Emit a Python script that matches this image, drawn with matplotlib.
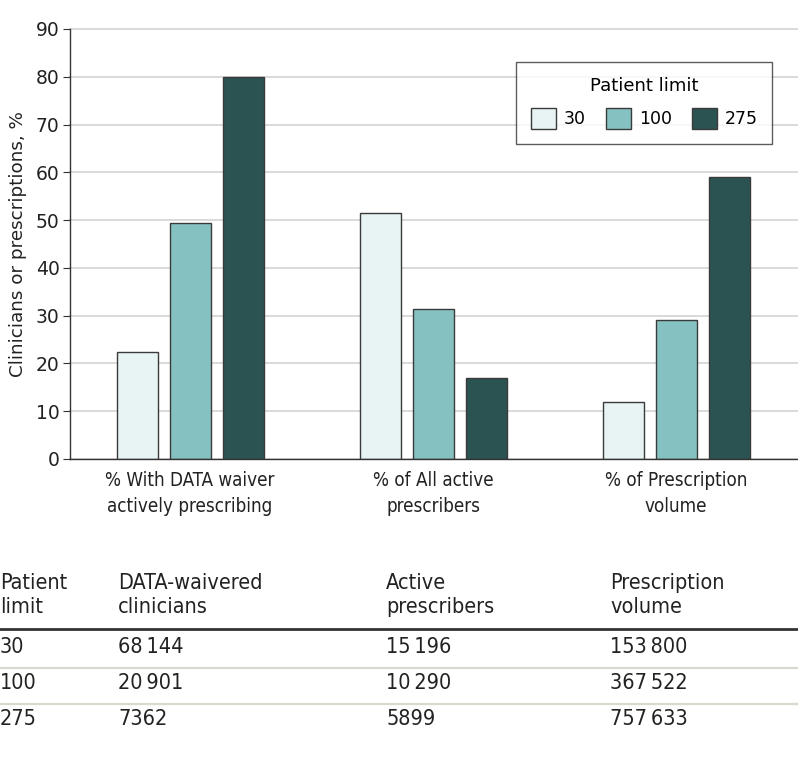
import matplotlib
matplotlib.use("Agg")
import matplotlib.pyplot as plt
from matplotlib.patches import Patch
from matplotlib.lines import Line2D
from matplotlib.font_manager import FontProperties
import numpy as np

plt.rcParams['font.family'] = ['DejaVu Sans']

categories = ["% With DATA waiver\nactively prescribing", "% of All active\nprescribers", "% of Prescription\nvolume"]
limits = ["30", "100", "275"]
values = {
    "30": [22.3, 51.5, 12.0],
    "100": [49.3, 31.5, 29.0],
    "275": [80.0, 17.0, 59.0],
}
colors = ["#E8F3F4", "#86C1C1", "#2A5352"]

table_header = ["Patient\nlimit", "DATA-waivered\nclinicians", "Active\nprescribers", "Prescription\nvolume"]
table_rows = [
    ["30", "68\u2009144", "15\u2009196", "153\u2009800"],
    ["100", "20\u2009901", "10\u2009290", "367\u2009522"],
    ["275", "7362", "5899", "757\u2009633"],
]

W, H = 798, 759
fig = plt.figure(figsize=(W/100, H/100), dpi=100)
ax = fig.add_axes([70/W, (H-459)/H, (W-70)/W, 430/H])

x = np.arange(len(categories))
bw = 41/243
off = 53/243
for i, lim in enumerate(limits):
    ax.bar(x + (i-1)*off, values[lim], width=bw, color=colors[i], edgecolor="#3a3a3a",
           linewidth=1.0, zorder=3, label=lim)

ax.set_xlim(-0.494, 2.502)
ax.set_ylim(0, 90)
ax.set_yticks(range(0, 91, 10))
ax.yaxis.grid(True, color="#d9d9d9", linewidth=1.4, zorder=0)
for gl in ax.get_ygridlines():
    gl.set_clip_on(False)
ax.set_axisbelow(True)
for s in ["top", "right"]:
    ax.spines[s].set_visible(False)
for s in ["left", "bottom"]:
    ax.spines[s].set_color("#333333")
    ax.spines[s].set_linewidth(1.0)
    ax.spines[s].set_zorder(4)

cond = FontProperties(family='DejaVu Sans', stretch='condensed', size=13.5)
ax.set_xticks(x)
ax.set_xticklabels(categories, fontproperties=cond, color="#222222", linespacing=1.4)
ax.tick_params(axis="x", length=0, pad=9)
ax.tick_params(axis="y", labelsize=13.5, length=5, color="#333333", labelcolor="#222222", pad=2.5)
ax.set_ylabel("Clinicians or prescriptions, %", fontsize=13.2, color="#222222", labelpad=6)

handles = [Patch(facecolor=colors[i], edgecolor="#3a3a3a", label=l) for i, l in enumerate(limits)]
leg = ax.legend(handles=handles, title="Patient limit", ncol=3, loc="upper left",
                bbox_to_anchor=((516-70)/(W-70), (459-62)/430),
                prop={'size': 12.5}, title_fontsize=13,
                frameon=True, fancybox=False, edgecolor="#333333", handlelength=1.45,
                handleheight=1.5, columnspacing=1.15, handletextpad=0.45, borderpad=0.85,
                labelspacing=0.75, borderaxespad=0)
leg.get_frame().set_linewidth(1.0)

# table
col_x = [0, 118, 386, 610]
tprops = dict(family='DejaVu Sans', stretch='condensed', size=15.5)
for j, h in enumerate(table_header):
    fig.text(col_x[j]/W, 1 - 595/H, h, va="center", ha="left",
             color="#222222", linespacing=1.2, fontproperties=FontProperties(**tprops))
fig.add_artist(Line2D([0, 1], [1-629/H, 1-629/H], color="#333333", lw=2.0))
row_y = [647, 683, 719]
for r, row in enumerate(table_rows):
    for j, v in enumerate(row):
        fig.text(col_x[j]/W, 1 - row_y[r]/H, v, va="center", ha="left", color="#222222",
                 fontproperties=FontProperties(**tprops))
for yy in [668, 704]:
    fig.add_artist(Line2D([0, 1], [1-yy/H, 1-yy/H], color="#d9d9d0", lw=1.6))

fig.savefig("out.png", dpi=100)
